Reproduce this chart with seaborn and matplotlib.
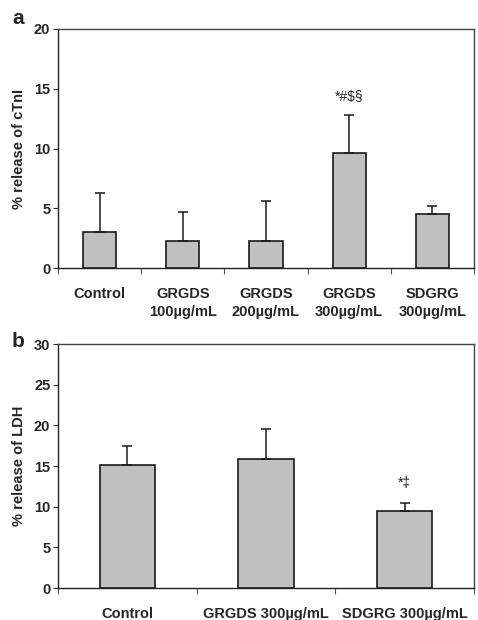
import matplotlib
matplotlib.use("Agg")
import matplotlib.pyplot as plt
import seaborn as sns
import numpy as np
import pandas as pd

# Panel a data
cats_a = ["Control", "GRGDS\n100\u00b5g/mL", "GRGDS\n200\u00b5g/mL", "GRGDS\n300\u00b5g/mL", "SDGRG\n300\u00b5g/mL"]
vals_a = [3.0, 2.3, 2.3, 9.6, 4.5]
errs_a = [3.3, 2.4, 3.3, 3.2, 0.7]
ticks_a = [0, 5, 10, 15, 20]

# Panel b data
cats_b = ["Control", "GRGDS 300\u00b5g/mL", "SDGRG 300\u00b5g/mL"]
vals_b = [15.1, 15.9, 9.5]
errs_b = [2.3, 3.6, 0.9]
ticks_b = [0, 5, 10, 15, 20, 25, 30]

sns.set_theme(style="white")
plt.rcParams['font.family'] = ['Liberation Sans', 'DejaVu Sans']

fig = plt.figure(figsize=(4.78, 6.2), dpi=100)
W, H = 478, 620
ax_a = fig.add_axes([58 / W, 1 - 268 / H, 416 / W, 239 / H])
ax_b = fig.add_axes([58 / W, 1 - 588 / H, 416 / W, 244 / H])


def panel(ax, cats, vals, errs, ticks, ylabel):
    df = pd.DataFrame({"cat": cats, "val": vals})
    sns.barplot(data=df, x="cat", y="val", ax=ax, color="#c0c0c0",
                edgecolor="#1a1a1a", linewidth=1.2, width=0.4, errorbar=None,
                saturation=1)
    n = len(cats)
    pos = np.arange(n)
    ax.errorbar(pos, vals, yerr=[np.zeros(n), errs], fmt="none",
                ecolor="#1a1a1a", elinewidth=1.1, capsize=3.7, capthick=1.1,
                zorder=1)
    ax.set_ylim(ticks[0], ticks[-1])
    ax.set_yticks(ticks)
    ax.set_yticklabels([str(t) for t in ticks], fontsize=10.5, fontweight="bold")
    ax.set_xlim(-0.5, n - 0.5)
    ax.set_xticks(np.arange(n + 1) - 0.5)
    ax.set_xticklabels([])
    ax.set_xticks(pos, minor=True)
    ax.set_xticklabels(cats, minor=True, fontsize=10.5, fontweight="bold",
                       linespacing=1.35)
    ax.tick_params(axis="x", which="major", direction="out", length=4,
                   width=0.8, color="#555555", bottom=True)
    ax.tick_params(axis="x", which="minor", length=0, pad=14)
    ax.tick_params(axis="y", direction="out", length=3.5, width=0.8,
                   color="#333333", left=True, pad=2)
    ax.set_xlabel("")
    ax.set_ylabel(ylabel, fontsize=10.5, fontweight="bold", labelpad=6)
    for s in ["top", "right"]:
        ax.spines[s].set_color("#444444")
        ax.spines[s].set_linewidth(1.0)
    for s in ["left", "bottom"]:
        ax.spines[s].set_color("#222222")
        ax.spines[s].set_linewidth(1.0)
    ax.set_facecolor("white")


panel(ax_a, cats_a, vals_a, errs_a, ticks_a, "% release of cTnI")
panel(ax_b, cats_b, vals_b, errs_b, ticks_b, "% release of LDH")

ax_a.text(3, 14.3, "*#$\u00a7", ha="center", va="center", fontsize=10)
ax_b.text(2, 12.9, "*\u2021", ha="center", va="center", fontsize=10)

fig.text(12 / W, 1 - 24 / H, "a", fontsize=15, fontweight="bold", ha="left", va="baseline")
fig.text(12 / W, 1 - 347 / H, "b", fontsize=15, fontweight="bold", ha="left", va="baseline")

fig.savefig("out.png", dpi=100, facecolor="white")
